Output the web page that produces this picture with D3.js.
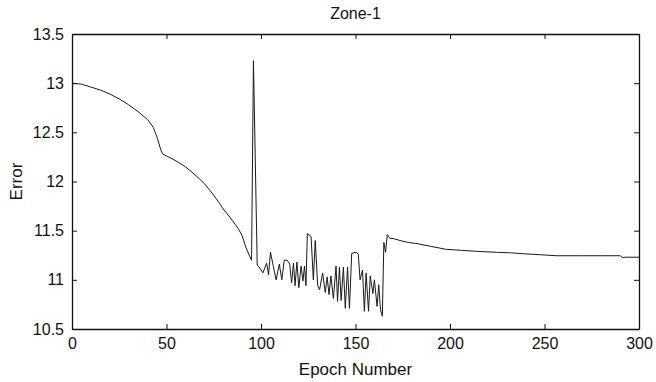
<!DOCTYPE html>
<html>
<head>
<meta charset="utf-8">
<script src="https://cdn.jsdelivr.net/npm/d3@7"></script>
<style>
  body { margin: 0; background: #fff; }
  svg text { font-family: "Liberation Sans", Arial, sans-serif; fill: #111; }
</style>
</head>
<body>
<div class="chart"></div>
<script>
// values (epoch, error)
var epochs = [0, 5, 10, 15, 20, 25, 30, 35, 40, 43, 45, 47, 48, 50, 55, 60, 65, 70, 75, 78, 80, 83, 85, 88, 90, 92, 94, 95,
  96, 98, 99, 101, 103, 104, 105, 106.5, 108, 109.7, 111, 112.3, 113.8, 115.2, 116.2, 117.2, 118, 119, 120, 121.2, 122.2, 123, 123.8,
  124.5, 126.5, 127.7, 128.7, 130, 131, 132.6, 134, 135, 136, 137, 138.3, 139.7, 140.5, 141.5, 142.4, 143.6, 144.6, 145.8, 146.8,
  148, 150.3, 151.5, 152.4, 153.7, 154.7, 155.6, 156.9, 157.8, 159.2, 160, 161.4, 162.3, 163.2, 164.2,
  165, 165.9, 166.8, 168.3, 170, 173.5, 178, 182, 190, 198, 206, 214, 224.7, 232, 238.8, 248, 256.5, 270, 280, 290, 291.5, 292.6, 300];
var errors = [13.0, 12.99, 12.96, 12.93, 12.89, 12.84, 12.78, 12.71, 12.63, 12.55, 12.45, 12.32, 12.28, 12.26, 12.21, 12.15, 12.07, 11.98, 11.86, 11.78, 11.72, 11.65, 11.6, 11.52, 11.45, 11.33, 11.24, 11.2,
  13.23, 11.15, 11.13, 11.07, 11.17, 11.05, 11.28, 11.14, 11.0, 11.16, 11.0, 11.2, 11.2, 11.16, 10.97, 11.17, 10.94, 11.18, 10.92, 11.14, 10.99, 11.14, 10.94,
  11.47, 11.44, 11.0, 11.4, 10.94, 10.9, 11.07, 10.87, 11.03, 10.85, 11.04, 10.81, 11.14, 10.78, 11.13, 10.79, 11.13, 10.71, 11.13, 10.71,
  11.27, 11.28, 11.26, 11.0, 11.1, 10.68, 11.07, 10.68, 11.04, 10.86, 11.0, 10.73, 10.95, 10.7, 10.63,
  11.38, 11.28, 11.46, 11.42, 11.42, 11.4, 11.38, 11.37, 11.34, 11.31, 11.3, 11.29, 11.28, 11.275, 11.265, 11.255, 11.245, 11.245, 11.245, 11.245, 11.225, 11.23, 11.23];
var xTicks = [0, 50, 100, 150, 200, 250, 300];
var yTicks = [10.5, 11, 11.5, 12, 12.5, 13, 13.5];

var width = 656, height = 382;
var margin = {top: 34, right: 17, bottom: 53, left: 72};

var svg = d3.select(".chart").append("svg")
  .attr("width", width)
  .attr("height", height);

var x = d3.scaleLinear().domain([0, 300]).range([margin.left, width - margin.right]);
var y = d3.scaleLinear().domain([10.5, 13.5]).range([height - margin.bottom, margin.top]);

var pts = epochs.map(function(e, i) { return [e, errors[i]]; });

// curve
svg.append("path")
  .datum(pts)
  .attr("fill", "none")
  .attr("stroke", "#1a1a1a")
  .attr("stroke-width", 1)
  .attr("d", d3.line().x(function(d) { return x(d[0]); }).y(function(d) { return y(d[1]); }));

// axes: ticks pointing inward, box around
var fmt = function(d) { return String(d); };
svg.append("g").attr("transform", "translate(0," + y(10.5) + ")")
  .call(d3.axisBottom(x).tickValues(xTicks).tickSizeInner(-5).tickSizeOuter(0).tickPadding(9).tickFormat(fmt));
svg.append("g").attr("transform", "translate(0," + y(13.5) + ")")
  .call(d3.axisTop(x).tickValues(xTicks).tickSizeInner(-5).tickSizeOuter(0).tickFormat(""));
svg.append("g").attr("transform", "translate(" + x(0) + ",0)")
  .call(d3.axisLeft(y).tickValues(yTicks).tickSizeInner(-5).tickSizeOuter(0).tickPadding(8).tickFormat(fmt));
svg.append("g").attr("transform", "translate(" + x(300) + ",0)")
  .call(d3.axisRight(y).tickValues(yTicks).tickSizeInner(-5).tickSizeOuter(0).tickFormat(""));

svg.selectAll(".domain").attr("stroke", "#111").attr("stroke-width", 1.3);
svg.selectAll(".tick line").attr("stroke", "#111");
svg.selectAll(".tick text").attr("font-size", 16).attr("fill", "#111");

svg.append("text").attr("x", (x(0) + x(300)) / 2).attr("y", 19)
  .attr("text-anchor", "middle").attr("font-size", 16).text("Zone-1");
svg.append("text").attr("x", (x(0) + x(300)) / 2).attr("y", 375)
  .attr("text-anchor", "middle").attr("font-size", 17).text("Epoch Number");
svg.append("text").attr("transform", "translate(22," + (y(12)) + ") rotate(-90)")
  .attr("text-anchor", "middle").attr("font-size", 17).text("Error");
</script>
</body>
</html>
